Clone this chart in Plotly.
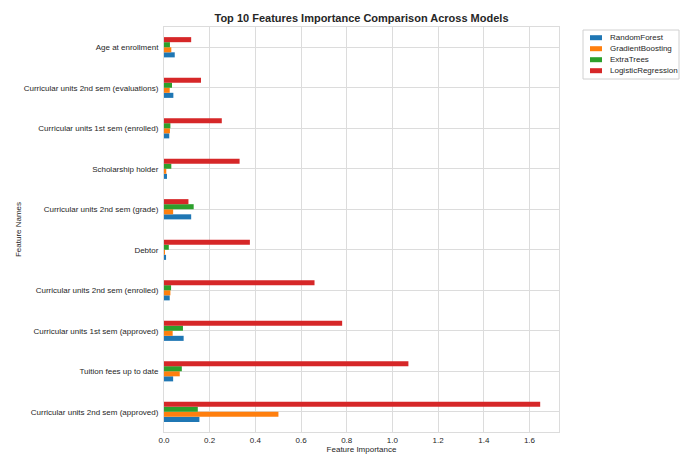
import plotly.graph_objects as go

# Features ordered bottom -> top on the category axis
features = [
    "Curricular units 2nd sem (approved)",
    "Tuition fees up to date",
    "Curricular units 1st sem (approved)",
    "Curricular units 2nd sem (enrolled)",
    "Debtor",
    "Curricular units 2nd sem (grade)",
    "Scholarship holder",
    "Curricular units 1st sem (enrolled)",
    "Curricular units 2nd sem (evaluations)",
    "Age at enrollment",
]

random_forest = [0.155, 0.040, 0.086, 0.025, 0.009, 0.119, 0.013, 0.023, 0.041, 0.047]
gradient_boosting = [0.501, 0.069, 0.038, 0.028, 0.004, 0.040, 0.010, 0.026, 0.025, 0.032]
extra_trees = [0.148, 0.078, 0.083, 0.031, 0.021, 0.130, 0.032, 0.028, 0.035, 0.026]
logistic_regression = [1.647, 1.070, 0.780, 0.659, 0.376, 0.107, 0.331, 0.253, 0.162, 0.119]

models = [
    ("RandomForest", random_forest, "#1f77b4"),
    ("GradientBoosting", gradient_boosting, "#ff7f0e"),
    ("ExtraTrees", extra_trees, "#2ca02c"),
    ("LogisticRegression", logistic_regression, "#d62728"),
]

x_ticks = [0.0, 0.2, 0.4, 0.6, 0.8, 1.0, 1.2, 1.4, 1.6]

FONT = "Liberation Sans, Arial, sans-serif"
TEXT = "#262626"
GRID = "#dcdcdc"

W, H = 688, 456
L, R, T, B = 164, 129, 27, 24
PW, PH = W - L - R, H - T - B


def px_x(px):
    """Pixel column -> paper x."""
    return (px - L) / PW


def px_y(py):
    """Pixel row (from top) -> paper y."""
    return (H - B - py) / PH


fig = go.Figure()
for name, vals, color in models:
    fig.add_trace(go.Bar(
        x=vals, y=features, name=name, orientation="h",
        marker=dict(color=color, line=dict(width=0)),
        showlegend=False,
    ))

# Legend box drawn as shapes + text in the right margin
shapes = [dict(
    type="rect", xref="paper", yref="paper",
    x0=px_x(583), x1=px_x(679), y0=px_y(79), y1=px_y(30),
    line=dict(color="#d0d0d0", width=1), fillcolor="white", layer="above",
)]
annotations = []
for i, (name, _, color) in enumerate(models):
    cy = 37.7 + i * 11
    shapes.append(dict(
        type="rect", xref="paper", yref="paper",
        x0=px_x(590), x1=px_x(602), y0=px_y(cy + 2.5), y1=px_y(cy - 2.5),
        line=dict(width=0), fillcolor=color, layer="above",
    ))
    annotations.append(dict(
        text=name, xref="paper", yref="paper",
        x=px_x(608), y=px_y(cy), xanchor="left", yanchor="middle",
        showarrow=False, font=dict(family=FONT, size=8, color=TEXT),
    ))

xmax = max(logistic_regression) * 1.05

fig.update_layout(
    width=W, height=H,
    margin=dict(l=L, r=R, t=T, b=B),
    paper_bgcolor="white", plot_bgcolor="white",
    barmode="group", bargap=0.5, bargroupgap=0,
    font=dict(family=FONT, size=8, color=TEXT),
    showlegend=False,
    shapes=shapes, annotations=annotations,
    title=dict(
        text="<b>Top 10 Features Importance Comparison Across Models</b>",
        x=(L + W - R) / 2 / W, xanchor="center",
        y=1 - 18 / H, yanchor="middle",
        font=dict(family=FONT, size=11, color=TEXT),
    ),
    xaxis=dict(
        range=[0, xmax], tickvals=x_ticks,
        ticktext=[f"{v:.1f}" for v in x_ticks],
        showgrid=True, gridcolor=GRID, gridwidth=1,
        zeroline=False, showline=True, linecolor=GRID, linewidth=1, mirror=True,
        ticks="", automargin=False,
        title=dict(text="Feature Importance", standoff=2,
                   font=dict(family=FONT, size=8, color=TEXT)),
    ),
    yaxis=dict(
        type="category", categoryorder="array", categoryarray=features,
        range=[-0.5, len(features) - 0.5],
        showgrid=True, gridcolor=GRID, gridwidth=1,
        zeroline=False, showline=True, linecolor=GRID, linewidth=1, mirror=True,
        ticks="", ticklabelstandoff=3, automargin=False,
        title=dict(text="Feature Names", standoff=0,
                   font=dict(family=FONT, size=8, color=TEXT)),
    ),
)

fig.write_html("out.html")
